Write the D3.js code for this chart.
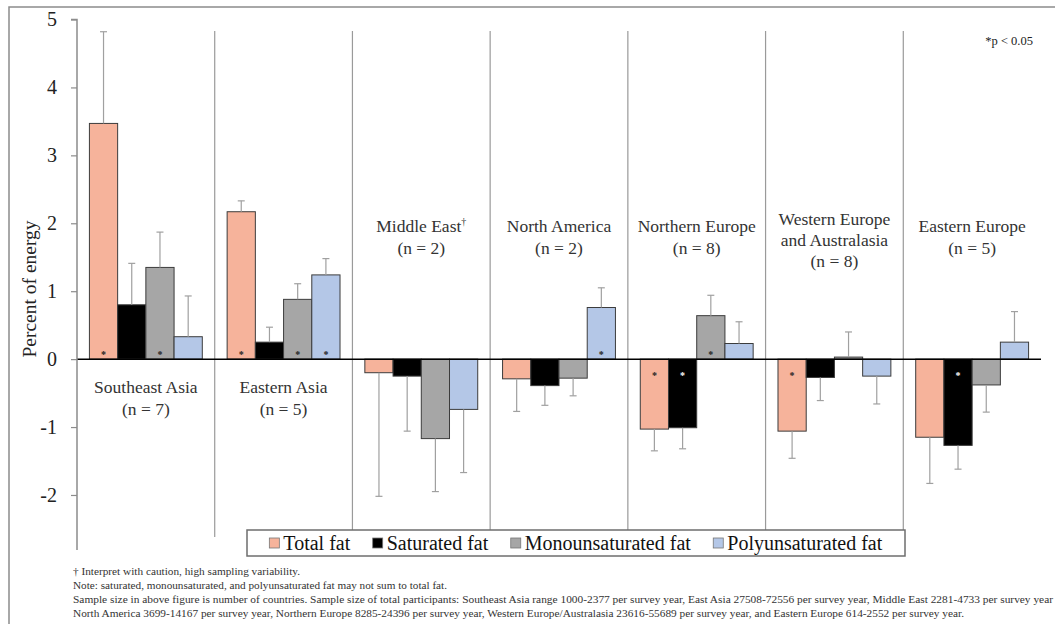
<!DOCTYPE html>
<html>
<head>
<meta charset="utf-8">
<script src="https://cdn.jsdelivr.net/npm/d3@7"></script>
<style>
  html, body { margin: 0; padding: 0; background: #fff; }
</style>
</head>
<body>
<svg id="chart" width="1055" height="624"></svg>
<script>
// Change in fat intake (percent of energy) by world region
const regions = ["Southeast Asia", "Eastern Asia", "Middle East", "North America",
                 "Northern Europe", "Western Europe and Australasia", "Eastern Europe"];
const sampleN = [7, 5, 2, 2, 8, 8, 5];
const caution = [false, false, true, false, false, false, false];

const seriesNames = ["Total fat", "Saturated fat", "Monounsaturated fat", "Polyunsaturated fat"];
const seriesColors = ["#f6b39b", "#000000", "#a6a6a6", "#b4c7e7"];

const totalFat = [3.47, 2.17, -0.20, -0.29, -1.03, -1.06, -1.15];
const saturatedFat = [0.80, 0.25, -0.25, -0.39, -1.01, -0.27, -1.27];
const monoFat = [1.35, 0.88, -1.17, -0.28, 0.64, 0.03, -0.38];
const polyFat = [0.33, 1.24, -0.74, 0.76, 0.23, -0.25, 0.25];

// one-sided error bar lengths (in the direction of each bar)
const totalFatErr = [1.35, 0.16, 1.82, 0.48, 0.32, 0.40, 0.68];
const saturatedFatErr = [0.61, 0.22, 0.81, 0.29, 0.31, 0.34, 0.35];
const monoFatErr = [0.52, 0.23, 0.78, 0.26, 0.30, 0.37, 0.40];
const polyFatErr = [0.60, 0.24, 0.93, 0.29, 0.32, 0.41, 0.45];

// significance markers (p < 0.05)
const totalFatSig = [1, 1, 0, 0, 1, 1, 0];
const saturatedFatSig = [0, 0, 0, 0, 1, 0, 1];
const monoFatSig = [1, 1, 0, 0, 1, 0, 0];
const polyFatSig = [0, 1, 0, 1, 0, 0, 0];

const yTicks = [-2, -1, 0, 1, 2, 3, 4, 5];

const footnotes = [
  "\u2020 Interpret with caution, high sampling variability.",
  "Note: saturated, monounsaturated, and polyunsaturated fat may not sum to total fat.",
  "Sample size in above figure is number of countries. Sample size of total participants: Southeast Asia range 1000-2377 per survey year, East Asia 27508-72556 per survey year, Middle East 2281-4733 per survey year",
  "North America 3699-14167 per survey year, Northern Europe 8285-24396 per survey year, Western Europe/Australasia 23616-55689 per survey year, and Eastern Europe 614-2552 per survey year."
];

const values = [totalFat, saturatedFat, monoFat, polyFat];
const errs = [totalFatErr, saturatedFatErr, monoFatErr, polyFatErr];
const sigs = [totalFatSig, saturatedFatSig, monoFatSig, polyFatSig];

const data = [];
regions.forEach((r, i) => {
  seriesNames.forEach((s, j) => {
    data.push({ region: r, series: s, idx: j, value: values[j][i], err: errs[j][i], sig: sigs[j][i] });
  });
});

const serif = "'Liberation Serif', serif";
const svg = d3.select("#chart").style("font-family", serif);

// outer frame
svg.append("path")
  .attr("d", "M9,640V7H1070")
  .attr("fill", "none").attr("stroke", "#8c8c8c").attr("stroke-width", 1.5);

const plotLeft = 77, plotRight = 1041, plotTop = 19.5, plotBottom = 550;

const y = d3.scaleLinear().domain([-2.81, 5]).range([plotBottom, plotTop]);
const x0 = d3.scaleBand().domain(regions).range([plotLeft, plotRight]).paddingInner(0).paddingOuter(0);
const x1 = d3.scaleBand().domain(seriesNames).range([0, x0.bandwidth()]).paddingInner(0).paddingOuter(0.44);

// region separators
svg.append("g").selectAll("line")
  .data(regions.slice(1))
  .join("line")
  .attr("x1", d => x0(d)).attr("x2", d => x0(d))
  .attr("y1", 31).attr("y2", 537)
  .attr("stroke", "#9a9a9a").attr("stroke-width", 1.2);

// bars
svg.append("g").selectAll("rect")
  .data(data)
  .join("rect")
  .attr("x", d => x0(d.region) + x1(d.series))
  .attr("width", x1.bandwidth())
  .attr("y", d => y(Math.max(0, d.value)))
  .attr("height", d => Math.abs(y(d.value) - y(0)))
  .attr("fill", d => seriesColors[d.idx])
  .attr("stroke", "#3c3c3c").attr("stroke-width", 1);

// error bars
const eb = svg.append("g").attr("stroke", "#a0a0a0").attr("stroke-width", 1.2);
data.forEach(d => {
  const cx = x0(d.region) + x1(d.series) + x1.bandwidth() / 2;
  const end = d.value >= 0 ? d.value + d.err : d.value - d.err;
  eb.append("line").attr("x1", cx).attr("x2", cx).attr("y1", y(d.value)).attr("y2", y(end));
  eb.append("line").attr("x1", cx - 3.5).attr("x2", cx + 3.5).attr("y1", y(end)).attr("y2", y(end));
});

// zero line
svg.append("line")
  .attr("x1", plotLeft).attr("x2", plotRight)
  .attr("y1", y(0)).attr("y2", y(0))
  .attr("stroke", "#000").attr("stroke-width", 1.5);

// significance asterisks
svg.append("g").selectAll("text")
  .data(data.filter(d => d.sig))
  .join("text")
  .attr("x", d => x0(d.region) + x1(d.series) + x1.bandwidth() / 2)
  .attr("y", d => d.value >= 0 ? y(0) - 1 : y(0) + 20)
  .attr("text-anchor", "middle")
  .attr("font-size", 10).attr("font-weight", "bold")
  .attr("fill", d => d.idx === 1 ? "#ffffff" : "#222222")
  .text("*");

// y axis
const yAxis = d3.axisLeft(y).tickValues(yTicks).tickSize(6).tickPadding(14).tickFormat(d => String(d));
const ga = svg.append("g").attr("transform", `translate(${plotLeft},0)`).call(yAxis)
  .attr("font-family", null).style("font-family", serif);
ga.select(".domain").attr("stroke", "#8c8c8c").attr("stroke-width", 1.5)
  .attr("d", `M-6,${plotTop}H0V${plotBottom}`);
ga.selectAll(".tick line").attr("stroke", "#8c8c8c").attr("stroke-width", 1.2);
ga.selectAll(".tick text").style("font-family", serif).attr("font-size", 20).attr("fill", "#222");

svg.append("text")
  .attr("transform", "translate(29,289) rotate(-90)")
  .attr("dy", "0.35em")
  .attr("text-anchor", "middle")
  .attr("font-size", 19.5).attr("fill", "#222")
  .text("Percent of energy");

// region labels: wrapped to the band width, below the axis where bars rise high
const labelG = svg.append("g").attr("font-size", 17.5).attr("fill", "#333").attr("text-anchor", "middle");
regions.forEach((r, i) => {
  const groupMax = d3.max(values, v => v[i]);
  const cx = x0(r) + x0.bandwidth() / 2;
  const probe = labelG.append("text").attr("visibility", "hidden");
  const words = r.split(" ");
  const lines = [];
  let cur = "";
  words.forEach(w => {
    const t = cur ? cur + " " + w : w;
    probe.text(t);
    if (probe.node().getComputedTextLength() > 125 && cur) { lines.push(cur); cur = w; }
    else cur = t;
  });
  lines.push(cur);
  probe.remove();
  lines.push(`(n = ${sampleN[i]})`);
  const below = groupMax > 2;
  const lh = lines.length > 2 ? 21 : 22;
  const top = below ? 393 : (lines.length > 2 ? 225 : 232);
  lines.forEach((ln, k) => {
    const t = labelG.append("text").attr("x", cx).attr("y", top + k * lh).text(ln);
    if (k === 0 && caution[i]) {
      t.append("tspan").attr("font-size", 10).attr("dy", -7).text("\u2020");
    }
  });
});

// significance key
svg.append("text")
  .attr("x", 1033).attr("y", 45)
  .attr("text-anchor", "end").attr("font-size", 12.5).attr("fill", "#222")
  .text("*p < 0.05");

// legend
const lg = svg.append("g");
lg.append("rect").attr("x", 247).attr("y", 530).attr("width", 658).attr("height", 26)
  .attr("fill", "#fff").attr("stroke", "#6e6e6e").attr("stroke-width", 1.5);
const items = lg.selectAll("g.item").data(seriesNames).join("g").attr("class", "item");
items.append("rect").attr("y", 538).attr("width", 10).attr("height", 10)
  .attr("fill", (d, i) => seriesColors[i]).attr("stroke", "#777").attr("stroke-width", 0.8);
items.append("text").attr("x", 14).attr("y", 550).attr("font-size", 20).attr("fill", "#111").text(d => d);
const widths = [];
items.each(function () { widths.push(this.getBBox().width); });
const gap = 22;
const totalW = d3.sum(widths) + gap * (widths.length - 1);
let cursor = 247 + (658 - totalW) / 2;
items.each(function (d, i) {
  d3.select(this).attr("transform", `translate(${cursor},0)`);
  cursor += widths[i] + gap;
});

// footnotes
const fnWidths = [227, 374, 980, 891];
svg.append("g").attr("font-size", 11).attr("fill", "#333")
  .selectAll("text").data(footnotes).join("text")
  .attr("x", 73).attr("y", (d, i) => 575 + i * 14)
  .attr("textLength", (d, i) => fnWidths[i])
  .attr("lengthAdjust", "spacingAndGlyphs")
  .text(d => d);
</script>
</body>
</html>
